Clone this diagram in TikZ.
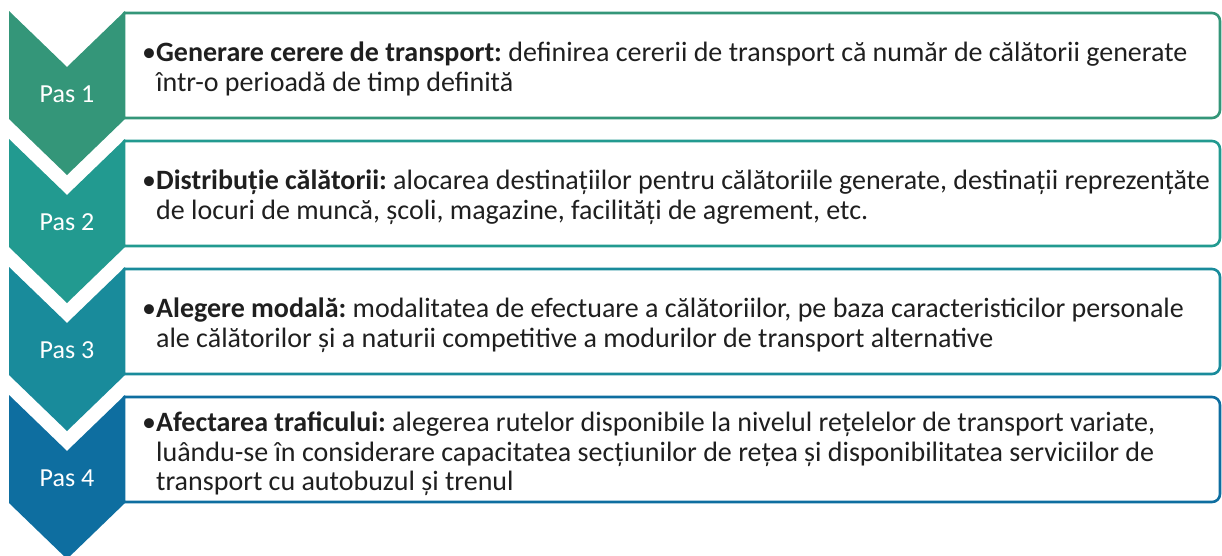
\documentclass[tikz,border=0pt]{standalone}
\usepackage{fontspec}
\setmainfont{Carlito}
\frenchspacing
\definecolor{cA}{HTML}{349679}
\definecolor{cB}{HTML}{229A90}
\definecolor{cC}{HTML}{198B9B}
\definecolor{cD}{HTML}{0E6EA0}
\begin{document}
\frenchspacing
\begin{tikzpicture}[x=1pt,y=-1pt,
  chev/.style={fill=#1,draw=none},
  box/.style={draw=#1,line width=2.6pt,fill=white,line join=round},
  pas/.style={text=white,inner sep=0pt,font=\fontsize{26}{30}\selectfont},
  body/.style={anchor=west,inner sep=0pt,align=left,text=black!88,font=\fontsize{28}{29.5}\selectfont\frenchspacing}
]
\useasboundingbox (0,0) rectangle (1222,555);
\clip (0,0) rectangle (1222,555);
\foreach \y/\c in {11/cA,139/cB,267/cC,395/cD}{
  \fill[chev=\c] (9,\y) -- (67,\y+56) -- (125,\y) -- (125,\y+108) -- (67,\y+164) -- (9,\y+108) -- cycle;
  \draw[box=\c] (124,\y+2) -- (1212,\y+2) arc[start angle=-90,end angle=0,radius=8] -- (1220,\y+99) arc[start angle=0,end angle=90,radius=8] -- (124,\y+107) -- cycle;
}
\node[pas] (p1) at (67,94) {Pas 1};
\node[pas] (p2) at (67,222) {Pas 2};
\node[pas] (p3) at (67,350) {Pas 3};
\node[pas] (p4) at (67,478) {Pas 4};
\node[body] (t1) at (142,69) {•\textbf{Generare cerere de transport:} definirea cererii de transport că număr de călătorii generate\\\hphantom{•}într-o perioadă de timp definită};
\node[body] (t2) at (142,197) {•\textbf{Distribuție călătorii:} alocarea destinațiilor pentru călătoriile generate, destinații reprezențăte\\\hphantom{•}de locuri de muncă, școli, magazine, facilități de agrement, etc.};
\node[body] (t3) at (142,325) {•\textbf{Alegere modală:} modalitatea de efectuare a călătoriilor, pe baza caracteristicilor personale\\\hphantom{•}ale călătorilor și a naturii competitive a modurilor de transport alternative};
\node[body] (t4) at (142,454) {•\textbf{Afectarea traficului:} alegerea rutelor disponibile la nivelul rețelelor de transport variate,\\\hphantom{•}luându-se în considerare capacitatea secțiunilor de rețea și disponibilitatea serviciilor de\\\hphantom{•}transport cu autobuzul și trenul};
\end{tikzpicture}
\end{document}
